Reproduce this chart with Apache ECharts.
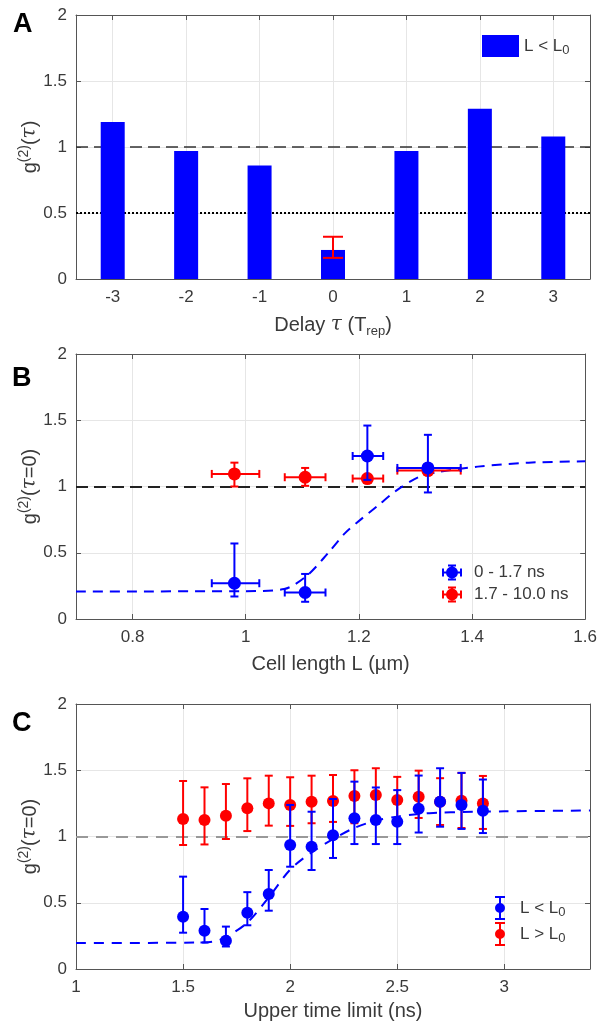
<!DOCTYPE html>
<html><head><meta charset="utf-8">
<script src="https://cdn.jsdelivr.net/npm/echarts@6/dist/echarts.min.js"></script>
<style>html,body{margin:0;padding:0;background:#fff}#c{width:600px;height:1025px}</style>
</head><body><div id="c"></div>
<script>
// ---------- Panel A ----------
const delays = [-3, -2, -1, 0, 1, 2, 3];
const g2Delay = [1.19, 0.97, 0.86, 0.22, 0.97, 1.29, 1.08];
const errDelay = [0];
const errDelayLo = [0.16];
const errDelayHi = [0.32];
const refUnity = 1;
const refHalf = 0.5;

// ---------- Panel B ----------
const cellTicks = [0.8, 1, 1.2, 1.4, 1.6];
const cellLen = [0.98, 1.105, 1.215, 1.322];
const cellLenLo = [0.94, 1.069, 1.189, 1.268];
const cellLenHi = [1.024, 1.141, 1.243, 1.38];
const g2Early = [0.27, 0.20, 1.23, 1.14];
const g2EarlyLo = [0.17, 0.13, 1.05, 0.955];
const g2EarlyHi = [0.57, 0.34, 1.46, 1.39];
const g2Late = [1.095, 1.07, 1.06, 1.12];
const g2LateLo = [1.0, 1.005, 1.04, 1.09];
const g2LateHi = [1.18, 1.14, 1.08, 1.15];
const fitBx = [0.7, 1.0, 1.068, 1.109, 1.146, 1.176, 1.203, 1.232, 1.268, 1.308, 1.342, 1.41, 1.5, 1.6];
const fitBy = [0.208, 0.21, 0.226, 0.33, 0.5, 0.65, 0.75, 0.85, 0.975, 1.075, 1.11, 1.15, 1.18, 1.19];

// ---------- Panel C ----------
const timeTicks = [1, 1.5, 2, 2.5, 3];
const timeLimit = [1.5, 1.6, 1.7, 1.8, 1.9, 2.0, 2.1, 2.2, 2.3, 2.4, 2.5, 2.6, 2.7, 2.8, 2.9];
const g2Short = [0.395, 0.289, 0.214, 0.425, 0.566, 0.936, 0.923, 1.01, 1.137, 1.125, 1.112, 1.21, 1.263, 1.238, 1.195];
const g2ShortHi = [0.697, 0.453, 0.32, 0.58, 0.747, 1.238, 1.187, 1.283, 1.414, 1.37, 1.35, 1.46, 1.515, 1.48, 1.43];
const g2ShortLo = [0.274, 0.20, 0.17, 0.33, 0.44, 0.772, 0.747, 0.838, 0.943, 0.943, 0.943, 1.03, 1.074, 1.057, 1.026];
const g2Long = [1.132, 1.125, 1.157, 1.213, 1.25, 1.238, 1.263, 1.268, 1.306, 1.313, 1.275, 1.30, 1.263, 1.27, 1.25];
const g2LongHi = [1.419, 1.371, 1.396, 1.439, 1.459, 1.447, 1.459, 1.464, 1.50, 1.515, 1.45, 1.497, 1.44, 1.48, 1.457];
const g2LongLo = [0.936, 0.94, 0.981, 1.041, 1.082, 1.08, 1.10, 1.11, 1.10, 1.12, 1.09, 1.14, 1.087, 1.064, 1.057];
const fitCx = [1.0, 1.6, 1.65, 1.7, 1.8, 1.9, 2.0, 2.1, 2.2, 2.3, 2.4, 2.5, 2.6, 2.7, 2.8, 3.0, 3.4];
const fitCy = [0.196, 0.2, 0.21, 0.24, 0.35, 0.54, 0.75, 0.88, 0.98, 1.065, 1.12, 1.15, 1.17, 1.18, 1.185, 1.19, 1.196];

const BLUE = '#0000ff', RED = '#ff0000';
const FONT = '"Liberation Sans", Arial, sans-serif';
const AXC = '#555555', LBC = '#3a3a3a', GRIDC = '#e6e6e6';

const richBase = {
  sup: { fontSize: 14, lineHeight: 13, verticalAlign: 'top' },
  sub: { fontSize: 13, lineHeight: 12, verticalAlign: 'bottom' },
  tau: { fontStyle: 'italic', fontFamily: '"DejaVu Serif", serif' }
};
const nameStyle = { fontSize: 20, color: LBC, fontFamily: FONT, lineHeight: 26, rich: richBase };

function yAx(grid, name, right) {
  return {
    gridIndex: grid, type: 'value', min: 0, max: 2, interval: 0.5,
    position: right ? 'right' : 'left',
    axisLine: { show: true, onZero: false, lineStyle: { color: AXC, width: 1 } },
    axisTick: { show: true, inside: true, length: 5, lineStyle: { color: AXC } },
    axisLabel: { show: !right, color: LBC, fontSize: 17, fontFamily: FONT, margin: 9 },
    splitLine: { show: !right, lineStyle: { color: GRIDC, width: 1 } },
    name: right ? '' : name, nameLocation: 'middle', nameGap: 33, nameRotate: 90,
    nameMoveOverlap: false,
    nameTextStyle: nameStyle
  };
}
function xAx(grid, min, max, ticks, name, top, gap) {
  return {
    gridIndex: grid, type: 'value', min: min, max: max,
    position: top ? 'top' : 'bottom',
    axisLine: { show: true, onZero: false, lineStyle: { color: AXC, width: 1 } },
    axisTick: { show: true, inside: true, length: 5, customValues: ticks, lineStyle: { color: AXC } },
    axisLabel: { show: !top, customValues: ticks, color: LBC, fontSize: 17, fontFamily: FONT, margin: 10 },
    splitLine: { show: !top, lineStyle: { color: GRIDC, width: 1 } },
    name: top ? '' : name, nameLocation: 'middle', nameGap: gap,
    nameTextStyle: nameStyle
  };
}

function errYRender(color, cap, lw) {
  return function (params, api) {
    const x = api.value(0), lo = api.value(1), hi = api.value(2);
    const a = api.coord([x, lo]), b = api.coord([x, hi]);
    const st = { stroke: color, lineWidth: lw };
    return { type: 'group', children: [
      { type: 'line', shape: { x1: a[0], y1: a[1], x2: b[0], y2: b[1] }, style: st },
      { type: 'line', shape: { x1: a[0] - cap, y1: a[1], x2: a[0] + cap, y2: a[1] }, style: st },
      { type: 'line', shape: { x1: b[0] - cap, y1: b[1], x2: b[0] + cap, y2: b[1] }, style: st }
    ]};
  };
}
function errXRender(color, cap, lw) {
  return function (params, api) {
    const y = api.value(0), lo = api.value(1), hi = api.value(2);
    const a = api.coord([lo, y]), b = api.coord([hi, y]);
    const st = { stroke: color, lineWidth: lw };
    return { type: 'group', children: [
      { type: 'line', shape: { x1: a[0], y1: a[1], x2: b[0], y2: b[1] }, style: st },
      { type: 'line', shape: { x1: a[0], y1: a[1] - cap, x2: a[0], y2: a[1] + cap }, style: st },
      { type: 'line', shape: { x1: b[0], y1: b[1] - cap, x2: b[0], y2: b[1] + cap }, style: st }
    ]};
  };
}
function errYSeries(xi, yi, xs, lo, hi, color, cap, lw, z) {
  return { type: 'custom', xAxisIndex: xi, yAxisIndex: yi, z: z, silent: true,
    renderItem: errYRender(color, cap, lw), encode: { x: 0, y: [1, 2] },
    data: xs.map((x, i) => [x, lo[i], hi[i]]) };
}
function errXSeries(xi, yi, ys, lo, hi, color, cap, lw, z) {
  return { type: 'custom', xAxisIndex: xi, yAxisIndex: yi, z: z, silent: true,
    renderItem: errXRender(color, cap, lw), encode: { y: 0, x: [1, 2] },
    data: ys.map((y, i) => [y, lo[i], hi[i]]) };
}
function hline(xi, yi, val, color, width, dash) {
  return { type: 'line', xAxisIndex: xi, yAxisIndex: yi, data: [], silent: true, z: 1,
    markLine: { symbol: 'none', silent: true, z: 1, label: { show: false }, animation: false,
      data: [{ yAxis: val, lineStyle: { color: color, width: width, type: dash } }] } };
}

const iconB = 'path://M0 7H20V9H0Z M0 4H2V12H0Z M18 4H20V12H18Z M9 0H11V16H9Z M6 0H14V2H6Z M6 14H14V16H6Z M16 8A6 6 0 1 1 4 8A6 6 0 1 1 16 8Z';
const iconC = 'path://M4 0H6V24H4Z M0 0H10V2H0Z M0 22H10V24H0Z M10 12A5 5 0 1 1 0 12A5 5 0 1 1 10 12Z';
const legText = { fontSize: 17, color: LBC, fontFamily: FONT, lineHeight: 22, rich: richBase };
const subFmt = n => n.replace('L0', 'L{sub|0}');
const titleStyle = { fontSize: 27, fontWeight: 'bold', color: '#000', fontFamily: FONT };

const chart = echarts.init(document.getElementById('c'), null, { renderer: 'canvas' });
chart.setOption({
  animation: false,
  backgroundColor: '#fff',
  title: [
    { text: 'A', left: 13, top: 11, padding: 0, textStyle: titleStyle },
    { text: 'B', left: 12, top: 365, padding: 0, textStyle: titleStyle },
    { text: 'C', left: 12, top: 710, padding: 0, textStyle: titleStyle }
  ],
  grid: [
    { left: 76, right: 10, top: 15, height: 264, containLabel: false },
    { left: 76, right: 10, top: 354, height: 265, containLabel: false },
    { left: 76, right: 10, top: 704, height: 265, containLabel: false }
  ],
  legend: [
    { data: ['L < L0'], left: 482, top: 35, icon: 'rect', itemWidth: 37, itemHeight: 22,
      formatter: subFmt, textStyle: legText, selectedMode: false, padding: 0 },
    { data: [{ name: '0 - 1.7 ns', icon: iconB }, { name: '1.7 - 10.0 ns', icon: iconB }],
      orient: 'vertical', left: 442, top: 564, itemWidth: 20, itemHeight: 16, itemGap: 5,
      textStyle: { fontSize: 17, color: LBC, fontFamily: FONT, padding: [0, 0, 0, 7] }, selectedMode: false, padding: 0 },
    { data: [{ name: 'L < L0', icon: iconC }, { name: 'L > L0', icon: iconC }],
      orient: 'vertical', left: 495, top: 896, itemWidth: 10, itemHeight: 24, itemGap: 2,
      formatter: subFmt, textStyle: Object.assign({}, legText, { padding: [0, 0, 0, 10] }), selectedMode: false, padding: 0 }
  ],
  xAxis: [
    xAx(0, -3.5, 3.5, delays, 'Delay {tau|τ} (T{sub|rep})', false, 33),
    xAx(0, -3.5, 3.5, delays, '', true, 0),
    xAx(1, 0.7, 1.6, cellTicks, 'Cell length L (µm)', false, 32),
    xAx(1, 0.7, 1.6, cellTicks, '', true, 0),
    xAx(2, 1, 3.4, timeTicks, 'Upper time limit (ns)', false, 29),
    xAx(2, 1, 3.4, timeTicks, '', true, 0)
  ],
  yAxis: [
    yAx(0, 'g{sup|(2)}({tau|τ})', false), yAx(0, '', true),
    yAx(1, 'g{sup|(2)}({tau|τ}=0)', false), yAx(1, '', true),
    yAx(2, 'g{sup|(2)}({tau|τ}=0)', false), yAx(2, '', true)
  ],
  series: [
    // Panel A
    hline(0, 0, refUnity, '#333333', 1.5, [12, 6]),
    hline(0, 0, refHalf, '#000000', 2, [2, 2]),
    { name: 'L < L0', type: 'bar', xAxisIndex: 0, yAxisIndex: 0, barWidth: 24, z: 2,
      itemStyle: { color: BLUE }, data: delays.map((d, i) => [d, g2Delay[i]]) },
    errYSeries(0, 0, errDelay, errDelayLo, errDelayHi, RED, 10, 2, 3),

    // Panel B
    hline(2, 2, refUnity, '#222222', 2, [12, 6]),
    { type: 'line', xAxisIndex: 2, yAxisIndex: 2, z: 2, symbol: 'none', smooth: 0.3, silent: true,
      lineStyle: { color: BLUE, width: 2, type: [10, 7] }, data: fitBx.map((x, i) => [x, fitBy[i]]) },
    errYSeries(2, 2, cellLen, g2LateLo, g2LateHi, RED, 4, 2, 3),
    errXSeries(2, 2, g2Late, cellLenLo, cellLenHi, RED, 4, 2, 3),
    { name: '1.7 - 10.0 ns', type: 'scatter', xAxisIndex: 2, yAxisIndex: 2, z: 4, symbol: 'circle', symbolSize: 13,
      itemStyle: { color: RED, opacity: 1 }, data: cellLen.map((x, i) => [x, g2Late[i]]) },
    errYSeries(2, 2, cellLen, g2EarlyLo, g2EarlyHi, BLUE, 4, 2, 5),
    errXSeries(2, 2, g2Early, cellLenLo, cellLenHi, BLUE, 4, 2, 5),
    { name: '0 - 1.7 ns', type: 'scatter', xAxisIndex: 2, yAxisIndex: 2, z: 6, symbol: 'circle', symbolSize: 13,
      itemStyle: { color: BLUE, opacity: 1 }, data: cellLen.map((x, i) => [x, g2Early[i]]) },

    // Panel C
    hline(4, 4, refUnity, '#999999', 2, [12, 8]),
    { type: 'line', xAxisIndex: 4, yAxisIndex: 4, z: 2, symbol: 'none', smooth: 0.3, silent: true,
      lineStyle: { color: BLUE, width: 2, type: [10, 8] }, data: fitCx.map((x, i) => [x, fitCy[i]]) },
    errYSeries(4, 4, timeLimit, g2LongLo, g2LongHi, RED, 4, 2, 3),
    { name: 'L > L0', type: 'scatter', xAxisIndex: 4, yAxisIndex: 4, z: 4, symbol: 'circle', symbolSize: 12,
      itemStyle: { color: RED, opacity: 1 }, data: timeLimit.map((x, i) => [x, g2Long[i]]) },
    errYSeries(4, 4, timeLimit, g2ShortLo, g2ShortHi, BLUE, 4, 2, 5),
    { name: 'L < L0', type: 'scatter', xAxisIndex: 4, yAxisIndex: 4, z: 6, symbol: 'circle', symbolSize: 12,
      itemStyle: { color: BLUE, opacity: 1 }, data: timeLimit.map((x, i) => [x, g2Short[i]]) }
  ]
});
</script>
</body></html>
